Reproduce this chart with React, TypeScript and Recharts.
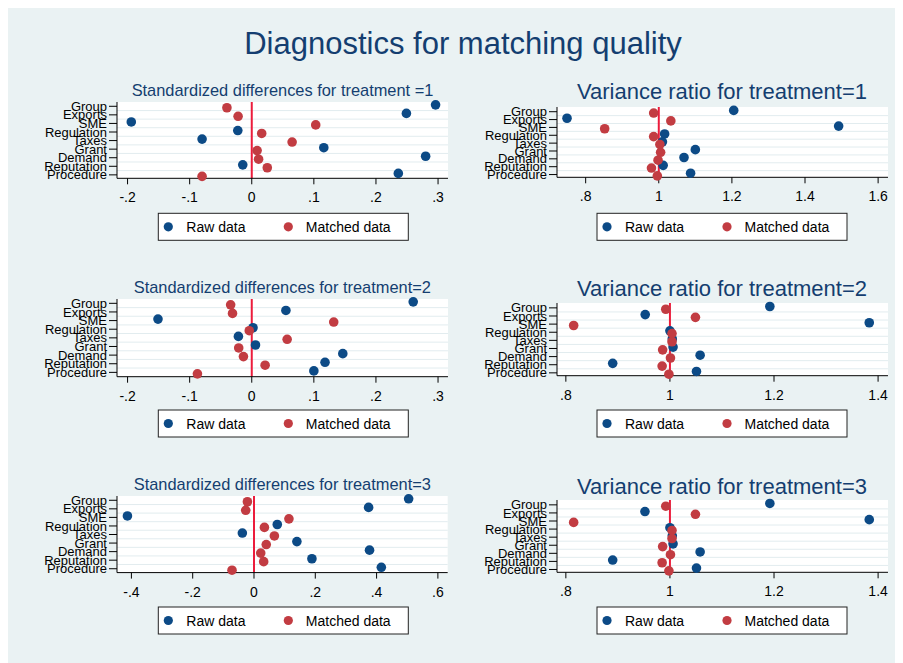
import React from 'react';
import { ScatterChart, Scatter, XAxis, YAxis, CartesianGrid, ReferenceLine } from 'recharts';

const categories = ['Group', 'Exports', 'SME', 'Regulation', 'Taxes', 'Grant', 'Demand', 'Reputation', 'Procedure'];

const sd1Raw = [0.296, 0.249, -0.194, -0.0225, -0.08, 0.116, 0.28, -0.0145, 0.236];
const sd1Matched = [-0.04, -0.022, 0.103, 0.016, 0.065, 0.0086, 0.011, 0.025, -0.08];
const vr1Raw = [1.205, 0.749, 1.492, 1.016, 1.01, 1.1, 1.069, 1.012, 1.087];
const vr1Matched = [0.986, 1.033, 0.852, 0.986, 1.003, 1.005, 0.998, 0.98, 0.996];
const sd2Raw = [0.26, 0.055, -0.151, 0.002, -0.0215, 0.006, 0.1466, 0.118, 0.1];
const sd2Matched = [-0.034, -0.031, 0.132, -0.004, 0.057, -0.021, -0.0134, 0.0215, -0.0875];
const vr2Raw = [1.192, 0.9525, 1.383, 1.0, 1.0045, 1.006, 1.058, 0.89, 1.051];
const vr2Matched = [0.992, 1.049, 0.815, 1.004, 1.004, 0.986, 1.001, 0.985, 0.998];
const sd3Raw = [0.5046, 0.374, -0.413, 0.076, -0.038, 0.14, 0.377, 0.189, 0.4155];
const sd3Matched = [-0.0215, -0.027, 0.114, 0.034, 0.0665, 0.04, 0.022, 0.0316, -0.0717];
const vr3Raw = [1.192, 0.952, 1.383, 1.0, 1.0045, 1.006, 1.058, 0.89, 1.051];
const vr3Matched = [0.992, 1.049, 0.815, 1.004, 1.004, 0.986, 1.001, 0.985, 0.998];

const sdTicksA = [-0.2, -0.1, 0, 0.1, 0.2, 0.3];
const sdTicksB = [-0.4, -0.2, 0, 0.2, 0.4, 0.6];
const vrTicksA = [0.8, 1, 1.2, 1.4, 1.6];
const vrTicksB = [0.8, 1, 1.2, 1.4];

const categoryTicks = categories.map((_, i) => i + 1);
const gridValues = categories.slice(1).map((_, i) => i + 1.5);

const BLUE = '#0c4a86';
const RED = '#c23c42';
const LINE_RED = '#ec1c3c';
const NAVY = '#143e70';
const BG = '#eaf2f3';
const FONT = '"Liberation Sans", Arial, Helvetica, sans-serif';

const OX = 8;
const OY = 8;
const YW = 100;
const XH = 40;
const MT = 16;

const fmt = (v: number) => {
  const s = String(Math.round(v * 1000) / 1000);
  return s.replace(/^(-?)0\./, '$1.');
};

const toRows = (vals: number[], off: number) => vals.map((x, i) => ({ x, y: i + 1 + off }));

const dot = (color: string) => (p: any) => <circle cx={p.cx} cy={p.cy} r={4.8} fill={color} />;

type PanelProps = {
  l: number; r: number; t: number; b: number;
  xDomain: [number, number]; xTicks: number[]; yDomain: [number, number];
  refX: number; raw: number[]; matched: number[];
};

function Panel({ l, r, t, b, xDomain, xTicks, yDomain, refX, raw, matched }: PanelProps) {
  const w = YW + (r - l) + 6;
  const h = (b - t) + XH + MT;
  return (
    <div style={{ position: 'absolute', left: l - OX - YW, top: t - OY - MT }}>
      <ScatterChart width={w} height={h} margin={{ top: MT, right: 6, bottom: 0, left: 0 }}>
        <CartesianGrid vertical={false} horizontalValues={gridValues} stroke="#e2ecef" strokeWidth={1} fill="#ffffff" />
        <XAxis
          type="number"
          dataKey="x"
          domain={xDomain}
          ticks={xTicks}
          interval={0}
          tickFormatter={fmt}
          height={XH}
          tickSize={6}
          tickMargin={8}
          axisLine={{ stroke: '#000', strokeWidth: 1 }}
          tickLine={{ stroke: '#000', strokeWidth: 1 }}
          tick={{ fill: '#000', fontSize: 14, fontFamily: FONT }}
        />
        <YAxis
          type="number"
          dataKey="y"
          domain={yDomain}
          reversed
          ticks={categoryTicks}
          interval={0}
          tickFormatter={(v: number) => categories[Math.round(v) - 1] ?? ''}
          width={YW}
          tickSize={8}
          tickMargin={2}
          axisLine={{ stroke: '#000', strokeWidth: 1 }}
          tickLine={{ stroke: '#000', strokeWidth: 1 }}
          tick={{ fill: '#000', fontSize: 13, fontFamily: FONT }}
        />
        <ReferenceLine x={refX} stroke={LINE_RED} strokeWidth={2} />
        <Scatter data={toRows(raw, -0.17)} shape={dot(BLUE)} isAnimationActive={false} />
        <Scatter data={toRows(matched, 0.17)} shape={dot(RED)} isAnimationActive={false} />
      </ScatterChart>
    </div>
  );
}

function LegendBox({ x, y }: { x: number; y: number }) {
  return (
    <g>
      <rect x={x} y={y} width={250} height={27} fill="#fff" stroke="#222" strokeWidth={1} />
      <circle cx={x + 10} cy={y + 13.5} r={4.6} fill={BLUE} />
      <text x={x + 28} y={y + 18.5} fontSize={14} fontFamily={FONT} fill="#000">Raw data</text>
      <circle cx={x + 130} cy={y + 13.5} r={4.6} fill={RED} />
      <text x={x + 147.5} y={y + 18.5} fontSize={14} fontFamily={FONT} fill="#000">Matched data</text>
    </g>
  );
}

export default function App() {
  return (
    <div style={{ position: 'relative', width: 895, height: 655, background: BG, fontFamily: FONT }}>
      <Panel l={117} r={448} t={101.7} b={178} xDomain={[-0.217, 0.316]} xTicks={sdTicksA} yDomain={[0.5, 9.4]} refX={0} raw={sd1Raw} matched={sd1Matched} />
      <Panel l={557} r={888} t={107} b={177.3} xDomain={[0.7216, 1.627]} xTicks={vrTicksA} yDomain={[0.4, 9.35]} refX={1} raw={vr1Raw} matched={vr1Matched} />
      <Panel l={117} r={448} t={299} b={376.7} xDomain={[-0.217, 0.316]} xTicks={sdTicksA} yDomain={[0.5, 9.5]} refX={0} raw={sd2Raw} matched={sd2Matched} />
      <Panel l={557.3} r={888.3} t={303.3} b={376} xDomain={[0.783, 1.419]} xTicks={vrTicksB} yDomain={[0.4, 9.35]} refX={1} raw={vr2Raw} matched={vr2Matched} />
      <Panel l={117.3} r={448} t={495.7} b={572.3} xDomain={[-0.447, 0.632]} xTicks={sdTicksB} yDomain={[0.5, 9.45]} refX={0} raw={sd3Raw} matched={sd3Matched} />
      <Panel l={557.3} r={888.3} t={500} b={572.3} xDomain={[0.783, 1.419]} xTicks={vrTicksB} yDomain={[0.4, 9.35]} refX={1} raw={vr3Raw} matched={vr3Matched} />
      <svg width={895} height={655} style={{ position: 'absolute', left: 0, top: 0, pointerEvents: 'none' }}>
        <g transform={`translate(${-OX},${-OY})`}>
          <text x={463} y={54} textAnchor="middle" fontSize={31} fontFamily={FONT} fill={NAVY}>Diagnostics for matching quality</text>
          <text x={282.5} y={96} textAnchor="middle" fontSize={16.4} fontFamily={FONT} fill={NAVY}>Standardized differences for treatment =1</text>
          <text x={722} y={98.6} textAnchor="middle" fontSize={22} fontFamily={FONT} fill={NAVY}>Variance ratio for treatment=1</text>
          <text x={282.3} y={293.3} textAnchor="middle" fontSize={16.4} fontFamily={FONT} fill={NAVY}>Standardized differences for treatment=2</text>
          <text x={722} y={296.3} textAnchor="middle" fontSize={22} fontFamily={FONT} fill={NAVY}>Variance ratio for treatment=2</text>
          <text x={282.3} y={490} textAnchor="middle" fontSize={16.4} fontFamily={FONT} fill={NAVY}>Standardized differences for treatment=3</text>
          <text x={722} y={493.6} textAnchor="middle" fontSize={22} fontFamily={FONT} fill={NAVY}>Variance ratio for treatment=3</text>
          <LegendBox x={158.3} y={213.3} />
          <LegendBox x={597} y={213.3} />
          <LegendBox x={158.3} y={410} />
          <LegendBox x={597} y={410} />
          <LegendBox x={158.3} y={607} />
          <LegendBox x={597} y={607} />
        </g>
      </svg>
    </div>
  );
}
